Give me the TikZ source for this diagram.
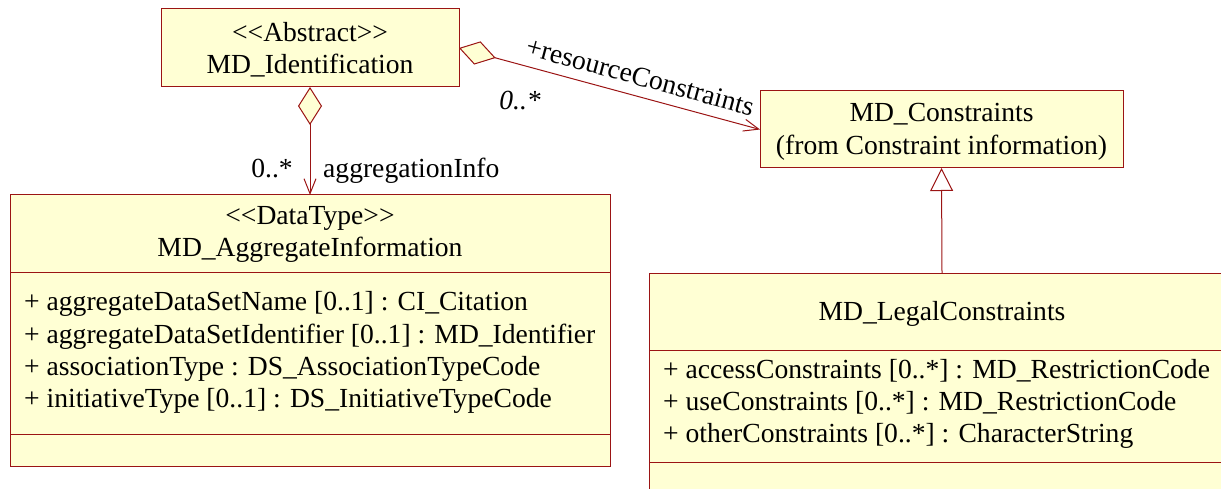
\documentclass[tikz,border=0pt]{standalone}
\usepackage{fontspec}
\setmainfont{Liberation Serif}
\usetikzlibrary{arrows.meta}
\definecolor{umlfill}{RGB}{255,255,212}
\definecolor{umlline}{RGB}{155,20,20}

\begin{document}
\begin{tikzpicture}[x=1pt,y=-1pt,
  font=\fontsize{27.6}{32.5}\selectfont,
  classbox/.style={draw=umlline, fill=umlfill, line width=1pt, rectangle,
    inner sep=0pt, outer sep=0pt, anchor=north west},
  divider/.style={draw=umlline, line width=1pt},
  txt/.style={inner sep=0pt, text height=0.68em, text depth=0.2em},
  attr/.style={txt, anchor=west},
  conn/.style={draw=umlline, line width=1pt, line join=miter},
  aggr/.tip={Diamond[open, fill=umlfill, length=38pt, width=24pt, line join=miter]},
  navi/.tip={Straight Barb[length=15pt, width=12pt]},
  gen/.tip={Triangle[open, fill=white, length=23pt, width=23pt, line join=miter]}]
\useasboundingbox (0,0) rectangle (1221,489);
\clip (0,0) rectangle (1221,489);

% class boxes
\node[classbox, minimum width=298pt, minimum height=78pt] (mdi) at (161,9) {};
\node[classbox, minimum width=363pt, minimum height=77pt] (mdc) at (760,91) {};
\node[classbox, minimum width=600pt, minimum height=271pt] (agg) at (10,195) {};
\node[classbox, minimum width=586pt, minimum height=240pt] (leg) at (649,273) {};

% compartment separators
\draw[divider] (agg.west |- 0,272) -- (agg.east |- 0,272);
\draw[divider] (agg.west |- 0,434) -- (agg.east |- 0,434);
\draw[divider] (leg.west |- 0,350) -- (leg.east |- 0,350);
\draw[divider] (leg.west |- 0,462) -- (leg.east |- 0,462);

% MD_Identification
\node[txt] (mdiS) at (310,39) {<{}<Abstract>{}>};
\node[txt] (mdiN) at (310,71) {MD\_Identification};

% MD_Constraints
\node[txt] (mdcN) at (941.5,119) {MD\_Constraints};
\node[txt] (mdcP) at (941.5,152) {(from Constraint information)};

% MD_AggregateInformation
\node[txt] (aggS) at (310,222) {<{}<DataType>{}>};
\node[txt] (aggN) at (310,254) {MD\_AggregateInformation};
\node[attr] (aggA1) at (24,308) {+ aggregateDataSetName [0..1] : CI\_Citation};
\node[attr] (aggA2) at (24,341) {+ aggregateDataSetIdentifier [0..1] : MD\_Identifier};
\node[attr] (aggA3) at (24,373) {+ associationType : DS\_AssociationTypeCode};
\node[attr] (aggA4) at (24,405) {+ initiativeType [0..1] : DS\_InitiativeTypeCode};

% MD_LegalConstraints
\node[txt] (legN) at (942,318) {MD\_LegalConstraints};
\node[attr] (legA1) at (663,376) {+ accessConstraints [0..*] : MD\_RestrictionCode};
\node[attr] (legA2) at (663,408) {+ useConstraints [0..*] : MD\_RestrictionCode};
\node[attr] (legA3) at (663,440) {+ otherConstraints [0..*] : CharacterString};

% associations
\draw[conn, {aggr}-{navi}] (mdi.south) -- (agg.north);
\node[txt] (aggMult) at (272,175) {0..*};
\node[attr] (aggRole) at (323,175) {aggregationInfo};

\draw[conn, {aggr}-{navi}] (mdi.east) -- (mdc.west)
  node[pos=0.585, sloped, above=10pt, inner sep=0pt] (resRole) {+resourceConstraints};
\node[txt] (resMult) at (520,107) {\itshape 0..*};

% generalization
\draw[conn, -{gen}] (leg.north) -- (mdc.south);
\end{tikzpicture}
\end{document}
